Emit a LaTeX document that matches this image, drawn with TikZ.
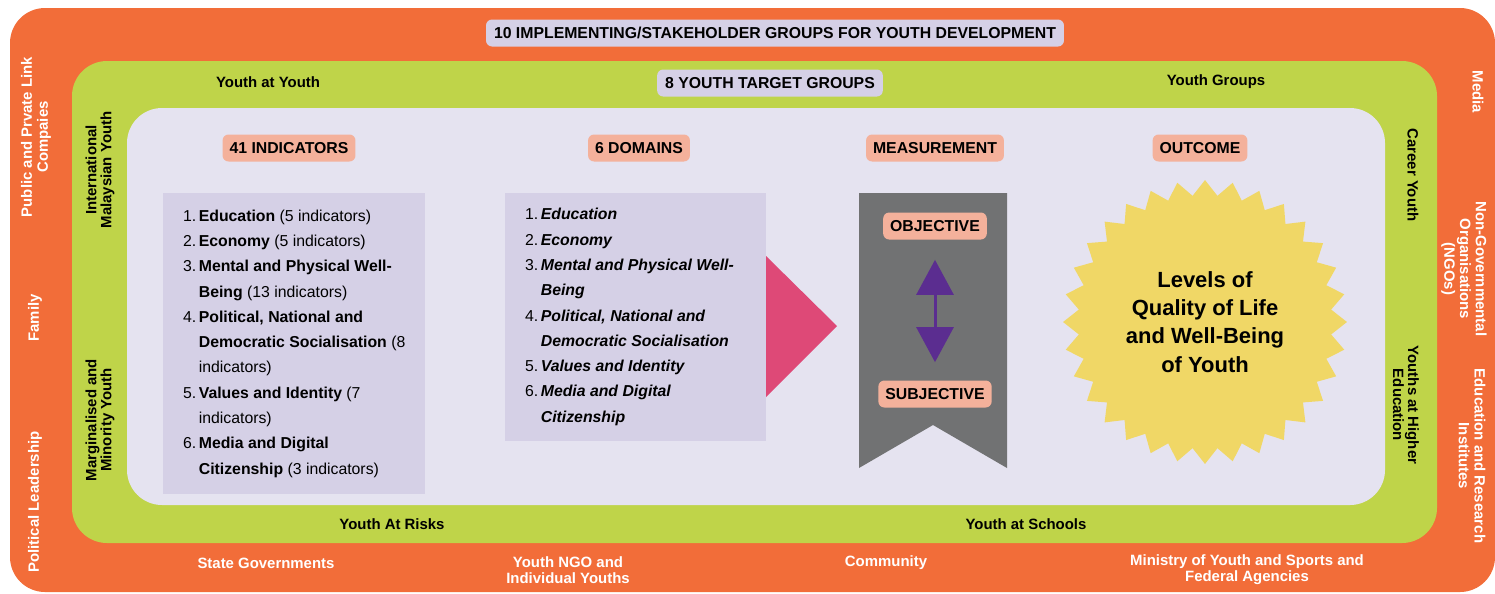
\documentclass[tikz,border=0pt]{standalone}
\usepackage{fontspec}
\setmainfont{Liberation Sans}
\usetikzlibrary{arrows.meta,shapes.geometric}

\definecolor{zoneorange}{HTML}{F26D39}
\definecolor{zonegreen}{HTML}{BFD449}
\definecolor{zonelav}{HTML}{E5E3F0}
\definecolor{boxlav}{HTML}{D5D0E6}
\definecolor{tagsalmon}{HTML}{F4B19B}
\definecolor{arrowpink}{HTML}{DE4977}
\definecolor{bannergray}{HTML}{717273}
\definecolor{arrowpurple}{HTML}{5B2D90}
\definecolor{staryellow}{HTML}{F0D766}

\newcommand{\itemno}[1]{\makebox[1em][l]{#1}}
\newcommand{\itemgap}{\hspace*{1em}}

\tikzset{
    youth diagram/.style = {x=0.02cm, y=-0.02cm,
                            >={Triangle[width=7.4mm, length=7mm]}},
    zone/.style        = {rounded corners=7mm},
    head/.style        = {fill=boxlav, rounded corners=1.2mm, inner xsep=1.6mm,
                          minimum height=5.4mm,
                          font=\bfseries\fontsize{9}{11}\selectfont},
    tag/.style         = {head, fill=tagsalmon, inner xsep=1.4mm},
    group/.style       = {align=center,
                          font=\bfseries\fontsize{8.5}{8.5}\selectfont},
    stakeholder/.style = {align=center, text=white,
                          font=\bfseries\fontsize{8.5}{9}\selectfont},
    listbox/.style     = {fill=boxlav, inner sep=0pt},
    listtext/.style    = {align=left, anchor=west, inner sep=0pt,
                          font=\fontsize{9}{14.4}\selectfont},
    link/.style        = {<->, draw=arrowpurple, line width=0.6mm}
}

\begin{document}
\begin{tikzpicture}[youth diagram]
\useasboundingbox (0,0) rectangle (1495,593);

% ================= Nested zones =================
\fill[zoneorange, zone] (10,8) rectangle (1495,592);
\fill[zonegreen, zone] (72,61) rectangle (1437,543);
\fill[zonelav, zone] (127,108) rectangle (1385,505);

% ================= Stakeholder groups (orange) =================
\node[head] (stake) at (775,33) {10 IMPLEMENTING/STAKEHOLDER GROUPS FOR YOUTH DEVELOPMENT};
\node[stakeholder, rotate=90] (plc) at (36,137) {Public and Prvate Link\\Compaies};
\node[stakeholder, rotate=90] (family) at (35,318) {Family};
\node[stakeholder, rotate=90] (polit) at (35,502) {Political Leadership};
\node[stakeholder, rotate=-90] (media) at (1478,92) {Media};
\node[stakeholder, rotate=-90] (ngo) at (1464,269) {Non-Governmental\\Organisations\\(NGOs)};
\node[stakeholder, rotate=-90] (edu) at (1472,456) {Education and Research\\Institutes};
\node[stakeholder] (stategov) at (266,563) {State Governments};
\node[stakeholder] (yngo) at (568,570) {Youth NGO and\\Individual Youths};
\node[stakeholder] (comm) at (886,563) {Community};
\node[stakeholder] (ministry) at (1247,570) {Ministry of Youth and Sports and\\Federal Agencies};

% ================= Youth target groups (green) =================
\node[head] (target) at (770,83) {8 YOUTH TARGET GROUPS};
\node[group] (yay) at (268,82) {Youth at Youth};
\node[group] (ygroups) at (1216,82) {Youth Groups};
\node[group, rotate=90] (intl) at (100,170) {International\\Malaysian Youth};
\node[group, rotate=90] (margin) at (100,420) {Marginalised and\\Minority Youth};
\node[group, rotate=-90] (career) at (1413,175) {Career Youth};
\node[group, rotate=-90] (higher) at (1406,405) {Youths at Higher\\Education};
\node[group] (risk) at (392,524) {Youth At Risks};
\node[group] (schools) at (1026,524) {Youth at Schools};

% ================= Column headings =================
\node[tag] (indtag) at (289,148) {41 INDICATORS};
\node[tag] (domtag) at (639,148) {6 DOMAINS};
\node[tag] (meastag) at (935,148) {MEASUREMENT};
\node[tag] (outtag) at (1200,148) {OUTCOME};

% ================= Indicators =================
\node[listbox, minimum width=5.24cm, minimum height=6.02cm] (indbox) at (294,343.5) {};
\node[listtext] (indlist) at ([xshift=4mm]indbox.west) {%
  \itemno{1.}\textbf{Education} (5 indicators)\\
  \itemno{2.}\textbf{Economy} (5 indicators)\\
  \itemno{3.}\textbf{Mental and Physical Well-}\\
  \itemgap\textbf{Being} (13 indicators)\\
  \itemno{4.}\textbf{Political, National and}\\
  \itemgap\textbf{Democratic Socialisation} (8\\
  \itemgap indicators)\\
  \itemno{5.}\textbf{Values and Identity} (7\\
  \itemgap indicators)\\
  \itemno{6.}\textbf{Media and Digital}\\
  \itemgap\textbf{Citizenship} (3 indicators)};

% ================= Domains =================
\node[listbox, minimum width=5.22cm, minimum height=4.96cm] (dombox) at (635.5,317) {};
\node[listtext] (domlist) at ([xshift=4mm]dombox.west) {%
  \itemno{1.}\textbf{\textit{Education}}\\
  \itemno{2.}\textbf{\textit{Economy}}\\
  \itemno{3.}\textbf{\textit{Mental and Physical Well-}}\\
  \itemgap\textbf{\textit{Being}}\\
  \itemno{4.}\textbf{\textit{Political, National and}}\\
  \itemgap\textbf{\textit{Democratic Socialisation}}\\
  \itemno{5.}\textbf{\textit{Values and Identity}}\\
  \itemno{6.}\textbf{\textit{Media and Digital}}\\
  \itemgap\textbf{\textit{Citizenship}}};
\fill[arrowpink] (766,256) -- (837,326) -- (766,397) -- cycle;

% ================= Measurement banner =================
\fill[bannergray] (859,193) -- (1007,193) -- (1007,468) -- (933,425) -- (859,468) -- cycle;
\node[tag] (objective) at (935,226) {OBJECTIVE};
\node[tag] (subjective) at (935,394) {SUBJECTIVE};
\draw[link, shorten <=4mm, shorten >=3.6mm] (objective.south) -- (subjective.north);

% ================= Outcome =================
\node[star, star points=32, star point ratio=1.12, fill=staryellow,
      minimum size=5.68cm, inner sep=0pt, align=center,
      font=\bfseries\fontsize{12.5}{16}\selectfont] (outcome) at (1205,322)
      {Levels of\\Quality of Life\\and Well-Being\\of Youth};

\end{tikzpicture}
\end{document}
